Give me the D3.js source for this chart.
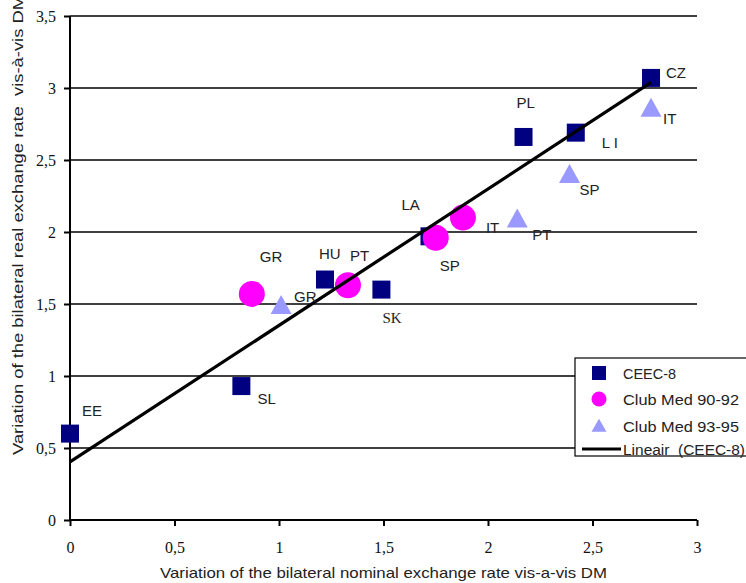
<!DOCTYPE html>
<html>
<head>
<meta charset="utf-8">
<script src="https://cdn.jsdelivr.net/npm/d3@7"></script>
<style>
  html, body { margin: 0; padding: 0; background: #fff; }
  svg { display: block; }
</style>
</head>
<body>
<script>
// CEEC-8 countries
const ceecNames = ["EE", "SL", "HU", "SK", "LA", "PL", "L I", "CZ"];
const ceecX = [0.00, 0.82, 1.22, 1.49, 1.72, 2.17, 2.42, 2.78];
const ceecY = [0.60, 0.93, 1.67, 1.60, 1.97, 2.66, 2.69, 3.07];

// Club Med, 1990-92
const med1Names = ["GR", "PT", "SP", "IT"];
const med1X = [0.87, 1.33, 1.75, 1.88];
const med1Y = [1.57, 1.63, 1.96, 2.10];

// Club Med, 1993-95
const med2Names = ["GR", "PT", "SP", "IT"];
const med2X = [1.01, 2.14, 2.39, 2.78];
const med2Y = [1.49, 2.09, 2.40, 2.86];

const xTicks = [0, 0.5, 1, 1.5, 2, 2.5, 3];
const yTicks = [0, 0.5, 1, 1.5, 2, 2.5, 3, 3.5];
const legendNames = ["CEEC-8", "Club Med 90-92", "Club Med 93-95", "Lineair  (CEEC-8)"];

// label offsets (px) from each marker centre: [dx, dy]
const ceecLabelPos = [[12, -18], [16, 18], [-6, -21], [1, 33], [-28, -26], [-7, -29], [26, 15], [15, 0]];
const med1LabelPos = [[8, -32], [2, -24], [4, 33], [23, 15]];
const med2LabelPos = [[13, -3], [15, 21], [10, 21], [12, 16]];

const W = 746, H = 583;
const fmt = d => String(d).replace(".", ",");

const svg = d3.select("body").append("svg").attr("width", W).attr("height", H);

const x = d3.scaleLinear().domain([0, 3]).range([70, 697]);
const y = d3.scaleLinear().domain([0, 3.5]).range([520, 16]);

// horizontal grid
svg.append("g").selectAll("line").data(yTicks.filter(d => d > 0)).join("line")
  .attr("x1", x(0)).attr("x2", x(3))
  .attr("y1", d => y(d)).attr("y2", d => y(d))
  .attr("stroke", "#000").attr("stroke-width", 1.3);

// axes
const serif = "'Liberation Serif', 'Times New Roman', serif";
const sans = "'Liberation Sans', Arial, sans-serif";

const yAxis = svg.append("g").attr("transform", `translate(${x(0)},0)`)
  .call(d3.axisLeft(y).tickValues(yTicks).tickFormat(fmt).tickSize(6).tickPadding(8));
const xAxis = svg.append("g").attr("transform", `translate(0,${y(0)})`)
  .call(d3.axisBottom(x).tickValues(xTicks).tickFormat(fmt).tickSize(6).tickPadding(16));
[xAxis, yAxis].forEach(a => {
  a.select(".domain").attr("stroke", "#000").attr("stroke-width", 2);
  a.selectAll(".tick line").attr("stroke", "#000").attr("stroke-width", 2);
  a.selectAll(".tick text").attr("fill", "#111").style("font-family", serif).style("font-size", "16px");
});
yAxis.select(".domain").attr("d", `M0,${y(3.5)}V${y(0)}`);
xAxis.select(".domain").attr("d", `M${x(0)},0H${x(3)}`);

// axis titles
svg.append("text")
  .attr("x", (x(0) + x(3)) / 2).attr("y", 578)
  .attr("text-anchor", "middle")
  .attr("textLength", 447).attr("lengthAdjust", "spacingAndGlyphs")
  .style("font-family", sans).style("font-size", "15px").attr("fill", "#222")
  .text("Variation of the bilateral nominal exchange rate vis-a-vis DM");

svg.append("text")
  .attr("transform", "translate(23,455) rotate(-90)")
  .attr("x", 0).attr("y", 0)
  .attr("textLength", 460).attr("lengthAdjust", "spacingAndGlyphs")
  .style("font-family", sans).style("font-size", "14.5px").attr("fill", "#222")
  .style("white-space", "pre")
  .text("Variation of the bilateral real exchange rate  vis-à-vis DM");

// markers
const sq = 18, r = 13, tw = 21, th = 19;
const triPath = (s, h) => `M0,${-h * 0.55}L${s / 2},${h * 0.45}L${-s / 2},${h * 0.45}Z`;

svg.append("g").selectAll("rect").data(d3.range(ceecX.length)).join("rect")
  .attr("x", i => x(ceecX[i]) - sq / 2).attr("y", i => y(ceecY[i]) - sq / 2)
  .attr("width", sq).attr("height", sq).attr("fill", "#000080");

svg.append("g").selectAll("circle").data(d3.range(med1X.length)).join("circle")
  .attr("cx", i => x(med1X[i])).attr("cy", i => y(med1Y[i])).attr("r", r)
  .attr("fill", "#ff00ff");

svg.append("g").selectAll("path").data(d3.range(med2X.length)).join("path")
  .attr("transform", i => `translate(${x(med2X[i])},${y(med2Y[i])})`)
  .attr("d", triPath(tw, th)).attr("fill", "#9999ff");

// least-squares trend through CEEC-8
const mx = d3.mean(ceecX), my = d3.mean(ceecY);
const slope = d3.sum(ceecX, (v, i) => (v - mx) * (ceecY[i] - my)) / d3.sum(ceecX, v => (v - mx) ** 2);
const icpt = my - slope * mx;
const x0 = d3.min(ceecX), x1 = d3.max(ceecX);
svg.append("line")
  .attr("x1", x(x0)).attr("y1", y(icpt + slope * x0))
  .attr("x2", x(x1)).attr("y2", y(icpt + slope * x1))
  .attr("stroke", "#000").attr("stroke-width", 3.2);

// point labels
function labels(names, xs, ys, pos) {
  svg.append("g").selectAll("text").data(d3.range(names.length)).join("text")
    .attr("x", i => x(xs[i]) + pos[i][0]).attr("y", i => y(ys[i]) + pos[i][1])
    .style("font-family", (i) => names[i] === "SK" ? serif : sans)
    .style("font-size", "15px").style("white-space", "pre").attr("fill", "#222")
    .text(i => names[i]);
}
labels(ceecNames, ceecX, ceecY, ceecLabelPos);
labels(med1Names, med1X, med1Y, med1LabelPos);
labels(med2Names, med2X, med2Y, med2LabelPos);

// legend
const lg = svg.append("g").attr("transform", "translate(575,358)");
lg.append("rect").attr("x", 0).attr("y", 0).attr("width", 180).attr("height", 98)
  .attr("fill", "#fff").attr("stroke", "#000").attr("stroke-width", 1.2);
const rowY = [15, 41, 68, 91];
const legLen = [53, 116, 116, 122];
lg.append("rect").attr("x", 24 - 7).attr("y", rowY[0] - 7).attr("width", 14).attr("height", 14).attr("fill", "#000080");
lg.append("circle").attr("cx", 24).attr("cy", rowY[1]).attr("r", 7.5).attr("fill", "#ff00ff");
lg.append("path").attr("transform", `translate(24,${rowY[2]})`).attr("d", triPath(15, 13)).attr("fill", "#9999ff");
lg.append("line").attr("x1", 7).attr("x2", 46).attr("y1", rowY[3]).attr("y2", rowY[3])
  .attr("stroke", "#000").attr("stroke-width", 3.2);
lg.selectAll("text.leg").data(legendNames).join("text").attr("class", "leg")
  .attr("x", 48).attr("y", (d, i) => rowY[i] + 6)
  .attr("textLength", (d, i) => legLen[i]).attr("lengthAdjust", "spacingAndGlyphs")
  .style("font-family", sans).style("font-size", "15.5px").style("white-space", "pre").attr("fill", "#222")
  .text(d => d);
</script>
</body>
</html>
